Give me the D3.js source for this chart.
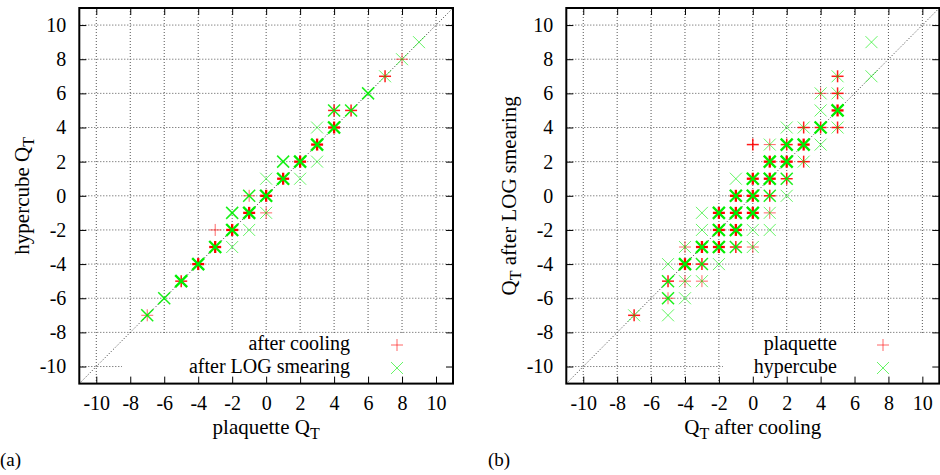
<!DOCTYPE html>
<html><head><meta charset="utf-8">
<script src="https://cdn.jsdelivr.net/npm/d3@7"></script>
<style>
body{margin:0;background:#fff}
svg text{font-family:"Liberation Serif","Times New Roman",serif !important;fill:#000}
</style>
</head><body>
<svg id="c" width="940" height="475"></svg>
<script>
// ---- data ----
const tickValues = [-10,-8,-6,-4,-2,0,2,4,6,8,10];
const tickLabels = ["-10","-8","-6","-4","-2","0","2","4","6","8","10"];
// [x, y, multiplicity level 1..3]
const coolingA = [[8,8,1],[7,7,2],[5,5,2],[4,5,2],[4,4,3],[3,3,3],[2,2,3],[1,1,3],[0,0,3],[-1,0,1],
  [-1,-1,3],[0,-1,1],[-2,-2,3],[-3,-2,1],[-3,-3,3],[-4,-4,3],[-5,-5,2],[-7,-7,1]];
const smearingA = [[9,9,1],[8,8,1],[7,7,1],[6,6,2],[4,5,2],[5,5,2],[3,4,1],[4,4,3],[3,3,3],[1,2,2],
  [2,2,3],[3,2,1],[0,1,1],[1,1,3],[2,1,1],[-1,0,2],[0,0,3],[-2,-1,2],[-1,-1,3],[0,-1,1],[-1,-2,1],
  [-2,-2,3],[-2,-3,1],[-3,-3,3],[-4,-4,3],[-5,-5,3],[-6,-6,2],[-7,-7,2]];
const plaquetteB = [[5,7,2],[4,6,1],[5,6,2],[5,5,3],[3,4,2],[4,4,2],[5,4,2],[0,3,2],[1,3,1],[2,3,2],
  [3,3,3],[1,2,3],[2,2,3],[3,2,2],[0,1,3],[1,1,3],[2,1,2],[-1,0,3],[0,0,3],[1,0,2],[-2,-1,3],
  [-1,-1,3],[0,-1,3],[1,-1,1],[-2,-2,3],[-1,-2,3],[-4,-3,1],[-3,-3,3],[-2,-3,3],[-1,-3,2],[0,-3,1],
  [-4,-4,3],[-3,-4,2],[-5,-5,2],[-4,-5,1],[-3,-5,1],[-5,-6,1],[-7,-7,2]];
const hypercubeB = [[7,9,1],[7,7,1],[5,7,1],[4,6,1],[5,6,1],[4,5,1],[5,5,3],[2,4,1],[3,4,1],[4,4,3],
  [5,4,1],[1,3,1],[2,3,3],[3,3,3],[4,3,1],[1,2,3],[2,2,3],[3,2,1],[-1,1,1],[0,1,3],[1,1,3],[2,1,2],
  [-1,0,3],[0,0,3],[1,0,2],[2,0,1],[-3,-1,1],[-2,-1,3],[-1,-1,3],[0,-1,3],[1,-1,1],[-3,-2,1],
  [-2,-2,3],[-1,-2,3],[0,-2,1],[1,-2,1],[-4,-3,1],[-3,-3,3],[-2,-3,3],[-1,-3,2],[0,-3,1],[-5,-4,1],
  [-4,-4,3],[-3,-4,2],[-2,-4,1],[-5,-5,2],[-4,-5,1],[-3,-5,1],[-5,-6,2],[-4,-6,1],[-5,-7,1],[-7,-7,1]];

const panels = [
  {left:79.3, right:453, tag:"(a)", tagX:0,
   xlab:["plaquette Q","T",""], ylab:["hypercube Q","T",""],
   series:[{name:"after cooling", data:coolingA, sym:"plus"},{name:"after LOG smearing", data:smearingA, sym:"cross"}],
   key:{x0:122, textX:350, symX:397}},
  {left:566.3, right:939.3, tag:"(b)", tagX:488,
   xlab:["Q","T"," after cooling"], ylab:["Q","T"," after LOG smearing"],
   series:[{name:"plaquette", data:plaquetteB, sym:"plus"},{name:"hypercube", data:hypercubeB, sym:"cross"}],
   key:{x0:723, textX:837, symX:883}}
];
const plotTop = 8, plotBottom = 383.6;
const colors = {plus:"#ff0000", cross:"#00ee00"};
const FONT = '"Liberation Serif","Times New Roman",serif';
const svg = d3.select("#c");

function styleFor(w){ return w===3?{sw:2.3,op:1}:w===2?{sw:1.5,op:0.9}:{sw:1,op:0.6}; }
function drawSym(g, sym, cx, cy, w){
  const s = styleFor(w), r = 6;
  const segs = sym==="plus" ? [[-r,0,r,0],[0,-r,0,r]] : [[-r,-r,r,r],[-r,r,r,-r]];
  segs.forEach(d=>g.append("line").attr("x1",cx+d[0]).attr("y1",cy+d[1]).attr("x2",cx+d[2]).attr("y2",cy+d[3])
    .attr("stroke",colors[sym]).attr("stroke-width",s.sw).attr("stroke-opacity",s.op));
}
function labelText(sel, parts){
  sel.style("font-family",FONT);
  sel.append("tspan").text(parts[0]);
  sel.append("tspan").attr("font-size",16).attr("dy",5).text(parts[1]);
  if(parts[2]) sel.append("tspan").attr("dy",-5).text(parts[2]);
}

panels.forEach(p=>{
  const x = d3.scaleLinear().domain([-11,11]).range([p.left,p.right]);
  const y = d3.scaleLinear().domain([-11,11]).range([plotBottom,plotTop]);
  const g = svg.append("g");
  const grid = g.append("g").attr("stroke","#555").attr("stroke-width",1).attr("stroke-dasharray","1,2");
  tickValues.forEach(t=>{
    grid.append("line").attr("x1",x(t)).attr("x2",x(t)).attr("y1",plotTop).attr("y2",plotBottom);
    grid.append("line").attr("y1",y(t)).attr("y2",y(t)).attr("x1",p.left).attr("x2",p.right);
  });
  g.append("rect").attr("x",p.key.x0).attr("y",333).attr("width",p.right-p.key.x0).attr("height",plotBottom-333).attr("fill","#fff");
  g.append("line").attr("x1",x(-11)).attr("y1",y(-11)).attr("x2",x(11)).attr("y2",y(11))
    .attr("stroke","#333").attr("stroke-width",1).attr("stroke-dasharray","1,2");
  const fmt = d=>tickLabels[tickValues.indexOf(d)];
  const ab = g.append("g").attr("transform",`translate(0,${plotBottom})`).call(d3.axisBottom(x).tickValues(tickValues).tickSize(-7).tickPadding(12).tickFormat(fmt));
  const at = g.append("g").attr("transform",`translate(0,${plotTop})`).call(d3.axisTop(x).tickValues(tickValues).tickSize(-7).tickFormat(""));
  const al = g.append("g").attr("transform",`translate(${p.left},0)`).call(d3.axisLeft(y).tickValues(tickValues).tickSize(-7).tickPadding(13).tickFormat(fmt));
  const ar = g.append("g").attr("transform",`translate(${p.right},0)`).call(d3.axisRight(y).tickValues(tickValues).tickSize(-7).tickFormat(""));
  [ab,at,al,ar].forEach(a=>{
    a.attr("font-family",FONT).attr("font-size",20);
    a.select(".domain").remove();
    a.selectAll(".tick line").attr("stroke","#000").attr("stroke-width",1);
    a.selectAll("text").style("font-family",FONT).style("font-size","20px").attr("fill","#000");
  });
  g.append("rect").attr("x",p.left).attr("y",plotTop).attr("width",p.right-p.left).attr("height",plotBottom-plotTop)
    .attr("fill","none").attr("stroke","#000").attr("stroke-width",2);
  const pg = g.append("g");
  p.series.forEach(s=>s.data.forEach(d=>drawSym(pg,s.sym,x(d[0]),y(d[1]),d[2])));
  p.series.forEach((s,i)=>{
    const base = 350 + i*23;
    g.append("text").attr("x",p.key.textX).attr("y",base).attr("text-anchor","end").style("font-family",FONT).attr("font-size",20).text(s.name);
    drawSym(g,s.sym,p.key.symX,base-5,1.5);
  });
  const cx = (p.left+p.right)/2;
  labelText(g.append("text").attr("x",cx).attr("y",434).attr("text-anchor","middle").attr("font-size",21), p.xlab);
  labelText(g.append("text").attr("transform",`translate(${p.left-50},${(plotTop+plotBottom)/2}) rotate(-90)`).attr("text-anchor","middle").attr("font-size",21), p.ylab);
  g.append("text").attr("x",p.tagX).attr("y",466).style("font-family",FONT).attr("font-size",19).text(p.tag);
});
</script>
</body></html>
